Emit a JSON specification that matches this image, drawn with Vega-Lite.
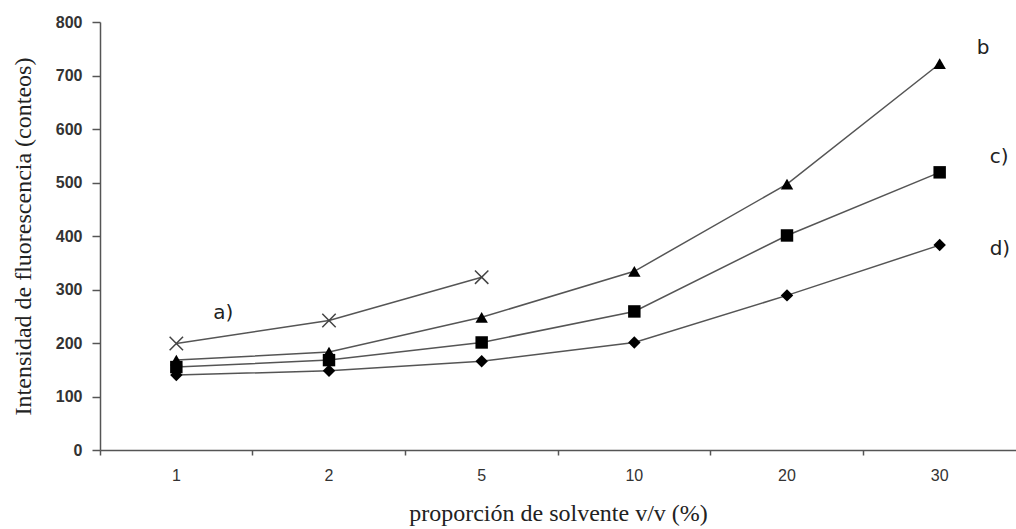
{
  "$schema": "https://vega.github.io/schema/vega-lite/v6.json",
  "autosize": {"type": "none"},
  "padding": {"left": 100, "top": 22, "right": 0, "bottom": 79},
  "width": 916,
  "height": 428,
  "background": "white",
  "config": {"view": {"stroke": null}},
  "datasets": {
    "pts": [
      {"serie": "a", "x": "1", "y": 199},
      {"serie": "a", "x": "2", "y": 242},
      {"serie": "a", "x": "5", "y": 323},
      {"serie": "b", "x": "1", "y": 168},
      {"serie": "b", "x": "2", "y": 183},
      {"serie": "b", "x": "5", "y": 248},
      {"serie": "b", "x": "10", "y": 334},
      {"serie": "b", "x": "20", "y": 497},
      {"serie": "b", "x": "30", "y": 722},
      {"serie": "c", "x": "1", "y": 155},
      {"serie": "c", "x": "2", "y": 168},
      {"serie": "c", "x": "5", "y": 201},
      {"serie": "c", "x": "10", "y": 259},
      {"serie": "c", "x": "20", "y": 401},
      {"serie": "c", "x": "30", "y": 519},
      {"serie": "d", "x": "1", "y": 140},
      {"serie": "d", "x": "2", "y": 148},
      {"serie": "d", "x": "5", "y": 166},
      {"serie": "d", "x": "10", "y": 201},
      {"serie": "d", "x": "20", "y": 289},
      {"serie": "d", "x": "30", "y": 383}
    ],
    "labels1": [
      {"label": "a)", "x": "1", "y": 257},
      {"label": "b", "x": "30", "y": 752}
    ],
    "labels2": [
      {"label": "c)", "x": "30", "y": 548},
      {"label": "d)", "x": "30", "y": 375}
    ]
  },
  "encoding": {
    "x": {
      "field": "x", "type": "ordinal",
      "sort": ["1", "2", "5", "10", "20", "30"],
      "scale": {"type": "band", "domain": ["1", "2", "5", "10", "20", "30"], "paddingInner": 0, "paddingOuter": 0},
      "axis": {
        "title": "proporción de solvente v/v (%)",
        "titleFont": "Liberation Serif", "titleFontSize": 24, "titleFontWeight": "normal", "titleColor": "#222",
        "titlePadding": 18,
        "labelAngle": 0, "labelFont": "Liberation Sans", "labelFontSize": 16, "labelColor": "#333",
        "labelPadding": 12,
        "bandPosition": 0, "tickSize": 5, "tickColor": "#555", "tickWidth": 1.5,
        "domainColor": "#555", "domainWidth": 1.5, "grid": false
      }
    },
    "y": {
      "field": "y", "type": "quantitative",
      "scale": {"domain": [0, 800], "nice": false},
      "axis": {
        "title": "Intensidad de fluorescencia (conteos)",
        "titleFont": "Liberation Serif", "titleFontSize": 24, "titleFontWeight": "normal", "titleColor": "#222",
        "titlePadding": 20,
        "values": [0, 100, 200, 300, 400, 500, 600, 700, 800],
        "labelFont": "Liberation Sans", "labelFontSize": 16, "labelColor": "#333", "labelFontWeight": "bold",
        "labelPadding": 10,
        "tickSize": 8, "tickColor": "#555", "tickWidth": 1.5,
        "domainColor": "#555", "domainWidth": 1.5, "grid": false
      }
    }
  },
  "layer": [
    {
      "data": {"name": "pts"},
      "mark": {"type": "line", "color": "#555", "strokeWidth": 1.5},
      "encoding": {"detail": {"field": "serie"}}
    },
    {
      "data": {"name": "pts"},
      "transform": [{"filter": "datum.serie !== 'a'"}],
      "mark": {"type": "point", "filled": true, "opacity": 1, "color": "black", "size": 155},
      "encoding": {
        "shape": {
          "field": "serie", "type": "nominal",
          "scale": {"domain": ["b", "c", "d"], "range": ["triangle-up", "square", "diamond"]},
          "legend": null
        }
      }
    },
    {
      "data": {"name": "pts"},
      "transform": [{"filter": "datum.serie === 'a'"}],
      "mark": {"type": "point", "filled": false, "opacity": 1, "color": "#444", "strokeWidth": 1.5, "size": 180, "shape": "M-1,-1L1,1M-1,1L1,-1"}
    },
    {
      "data": {"name": "labels1"},
      "mark": {"type": "text", "align": "left", "baseline": "middle", "dx": 37, "font": "DejaVu Sans", "fontSize": 20, "color": "#222"},
      "encoding": {"text": {"field": "label"}}
    },
    {
      "data": {"name": "labels2"},
      "mark": {"type": "text", "align": "left", "baseline": "middle", "dx": 50, "font": "DejaVu Sans", "fontSize": 20, "color": "#222"},
      "encoding": {"text": {"field": "label"}}
    }
  ]
}
